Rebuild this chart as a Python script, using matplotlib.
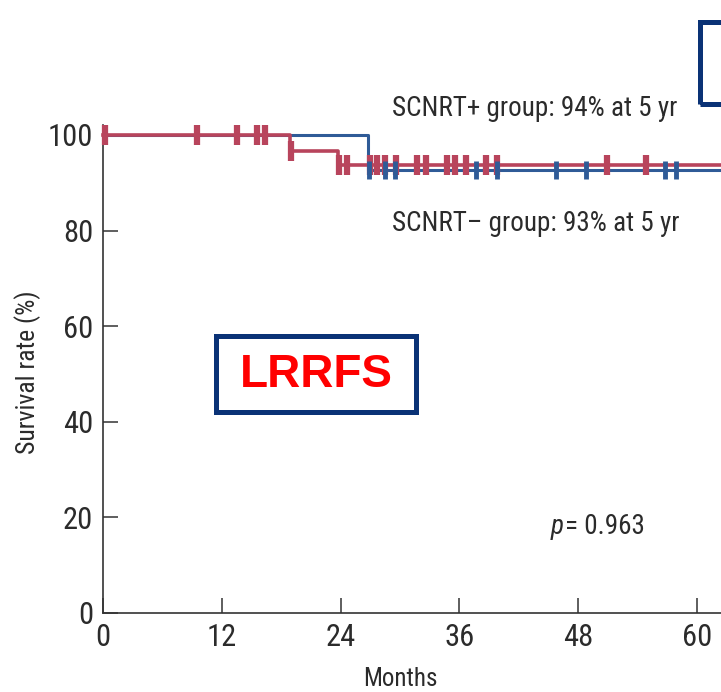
import matplotlib
matplotlib.use("Agg")
import matplotlib.pyplot as plt
from matplotlib.patches import Rectangle

plt.rcParams['font.family'] = ['Roboto Condensed', 'DejaVu Sans']

# Kaplan-Meier steps: event times and the survival level after each step (%)
plus_event_times = [18.9, 23.7]
plus_levels = [100, 96.6, 93.8]
minus_event_times = [26.8]
minus_levels = [100, 92.6]

# censored patients (months)
plus_censored = [0.2, 9.5, 13.5, 15.6, 16.4, 19.0, 23.8, 24.6, 27.0, 27.7, 28.5,
                 29.6, 31.7, 32.6, 34.7, 35.6, 36.7, 38.7, 39.8, 50.9, 54.8]
minus_censored = [26.9, 28.5, 29.5, 37.7, 39.8, 45.8, 48.8, 56.8, 57.9]

x_ticks = [0, 12, 24, 36, 48, 60]
y_ticks = [0, 20, 40, 60, 80, 100]
x_end = 63

red = '#b8445c'
blue = '#2f5b97'
navy = '#0a3276'
ink = '#2b2b2b'


def step_xy(event_times, levels):
    xs = [0]
    ys = [levels[0]]
    for t, lv_before, lv_after in zip(event_times, levels[:-1], levels[1:]):
        xs += [t, t]
        ys += [lv_before, lv_after]
    xs.append(x_end)
    ys.append(levels[-1])
    return xs, ys


def level_at(t, event_times, levels):
    lv = levels[0]
    for et, after in zip(event_times, levels[1:]):
        if t >= et:
            lv = after
    return lv


fig = plt.figure(figsize=(7.21, 6.92), dpi=100)
ax = fig.add_axes([103 / 721, 79 / 692, x_end * 9.9 / 721, 102 * 4.78 / 692])

bx, by = step_xy(minus_event_times, minus_levels)
rx, ry = step_xy(plus_event_times, plus_levels)
ax.plot(bx, by, color=blue, lw=2.2, clip_on=False, zorder=3)
ax.plot(rx, ry, color=red, lw=2.6, clip_on=False, zorder=4)

ax.plot(plus_censored, [level_at(t, plus_event_times, plus_levels) for t in plus_censored],
        ls='none', marker='|', ms=15, mew=4.5, color=red, clip_on=False, zorder=5)
ax.plot(minus_censored, [level_at(t, minus_event_times, minus_levels) for t in minus_censored],
        ls='none', marker='|', ms=13, mew=3.5, color=blue, clip_on=False, zorder=6)

ax.set_xlim(0, x_end)
ax.set_ylim(0, 102)
ax.set_xticks(x_ticks)
ax.set_yticks(y_ticks)
ax.spines['top'].set_visible(False)
ax.spines['right'].set_visible(False)
for s in ('left', 'bottom'):
    ax.spines[s].set_color('#333333')
    ax.spines[s].set_linewidth(1.2)
ax.tick_params(direction='in', length=11, width=1.1, color='#333333',
               labelsize=22, labelcolor=ink, pad=7)

ax.set_xlabel('Months', fontsize=18, color=ink)
ax.xaxis.set_label_coords(30 / x_end, -0.11)
ax.set_ylabel('Survival rate (%)', fontsize=18.5, color=ink)
ax.yaxis.set_label_coords(-0.1, 0.494)

ax.text(29.2, 105.6, 'SCNRT+ group: 94% at 5 yr', fontsize=19.5, color=ink,
        va='center', ha='left', clip_on=False)
ax.text(29.2, 81.4, 'SCNRT\u2013 group: 93% at 5 yr', fontsize=19.5, color=ink,
        va='center', ha='left')
ax.text(45.2, 18.0, 'p', fontsize=19.5, style='italic', color=ink, va='center', ha='left')
ax.annotate('= 0.963', xy=(45.2, 18.0), xytext=(10.5, 0), textcoords='offset points',
            fontsize=19.5, color=ink, va='center', ha='left')

# LRRFS label box
fig.patches.append(Rectangle((216 / 721, 1 - 412 / 692), 200 / 721, 76 / 692,
                             transform=fig.transFigure, fill=True, facecolor='white',
                             edgecolor=navy, lw=3.6, zorder=10))
fig.text(316 / 721, 1 - 375 / 692, 'LRRFS', family='Liberation Sans', weight='bold',
         fontsize=33, color='#ff0000', ha='center', va='center', zorder=11)

# frame of the neighbouring panel label, cut by the edge
fig.patches.append(Rectangle((700 / 721, 1 - 104 / 692), 60 / 721, 82 / 692,
                             transform=fig.transFigure, fill=False,
                             edgecolor=navy, lw=3.6, zorder=10))

fig.savefig('out.png', dpi=100)
